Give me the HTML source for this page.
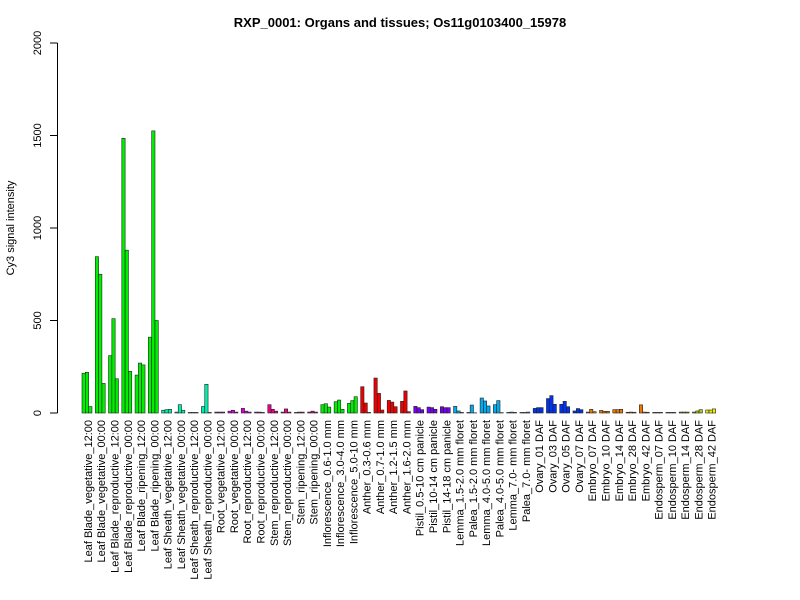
<!DOCTYPE html>
<html><head><meta charset="utf-8"><style>body{margin:0;background:#fff}svg{display:block}</style></head>
<body>
<svg id="s" width="800" height="600" xmlns="http://www.w3.org/2000/svg" font-family="Liberation Sans, Arial, sans-serif">
<text x="400" y="27" text-anchor="middle" font-weight="bold" font-size="13">RXP_0001: Organs and tissues; Os11g0103400_15978</text>
<text transform="translate(14,228) rotate(-90)" text-anchor="middle" font-size="11">Cy3 signal intensity</text>
<line x1="57.5" y1="43" x2="57.5" y2="413" stroke="#000"/>
<g id="ticks"></g>
<g id="bars"></g>
<g id="labels" font-size="11"></g>
</svg>
<script>
var ns="http://www.w3.org/2000/svg";
function el(t,a,p,txt){var e=document.createElementNS(ns,t);for(var k in a)e.setAttribute(k,a[k]);if(txt!=null)e.textContent=txt;document.getElementById(p).appendChild(e);return e;}
var base=413,sc=370/2000;
[0,500,1000,1500,2000].forEach(function(v){var y=base-v*sc;el('line',{x1:50,x2:57.5,y1:y,y2:y,stroke:'#000'},'ticks');el('text',{transform:'translate(41,'+y+') rotate(-90)','text-anchor':'middle','font-size':'11'},'ticks',v);});
var names=["Leaf Blade_vegetative_12:00","Leaf Blade_vegetative_00:00","Leaf Blade_reproductive_12:00","Leaf Blade_reproductive_00:00","Leaf Blade_ripening_12:00","Leaf Blade_ripening_00:00","Leaf Sheath_vegetative_12:00","Leaf Sheath_vegetative_00:00","Leaf Sheath_reproductive_12:00","Leaf Sheath_reproductive_00:00","Root_vegetative_12:00","Root_vegetative_00:00","Root_reproductive_12:00","Root_reproductive_00:00","Stem_reproductive_12:00","Stem_reproductive_00:00","Stem_ripening_12:00","Stem_ripening_00:00","Inflorescence_0.6-1.0 mm","Inflorescence_3.0-4.0 mm","Inflorescence_5.0-10 mm","Anther_0.3-0.6 mm","Anther_0.7-1.0 mm","Anther_1.2-1.5 mm","Anther_1.6-2.0 mm","Pistil_0.5-10 cm panicle","Pistil_10-14 cm panicle","Pistil_14-18 cm panicle","Lemma_1.5-2.0 mm floret","Palea_1.5-2.0 mm floret","Lemma_4.0-5.0 mm floret","Palea_4.0-5.0 mm floret","Lemma_7.0- mm floret","Palea_7.0- mm floret","Ovary_01 DAF","Ovary_03 DAF","Ovary_05 DAF","Ovary_07 DAF","Embryo_07 DAF","Embryo_10 DAF","Embryo_14 DAF","Embryo_28 DAF","Embryo_42 DAF","Endosperm_07 DAF","Endosperm_10 DAF","Endosperm_14 DAF","Endosperm_28 DAF","Endosperm_42 DAF"];
var vals=[[215,220,35],[845,750,160],[310,510,185],[1485,880,225],[205,270,260],[410,1525,500],[15,18,20],[5,45,15],[3,3,3],[35,155,3],[5,5,5],[10,15,5],[25,10,5],[5,5,3],[45,20,10],[5,22,5],[3,5,5],[5,10,5],[45,50,32],[61,70,20],[52,67,88],[142,54,3],[189,106,16],[68,59,34],[63,119,7],[36,29,18],[32,29,20],[34,29,29],[36,11,3],[3,43,1],[81,65,38],[45,67,2],[3,5,3],[3,3,5],[25,29,29],[78,94,47],[47,63,34],[11,24,18],[5,20,7],[14,9,9],[18,18,20],[4,5,4],[44,5,4],[3,3,3],[3,3,3],[5,5,5],[5,11,18],[16,16,22]];
function col(g){if(g<6)return'#00ee00';if(g<10)return'#00eeaa';if(g<14)return'#dd00dd';if(g<18)return'#ee0088';if(g<21)return'#00ee00';if(g<25)return'#ee0000';if(g<28)return'#7700ee';if(g<34)return'#00aaee';if(g<38)return'#0033ee';if(g<43)return'#ee7700';if(g<46)return'#88aa00';if(g<47)return'#aacc00';return'#eeee00';}
var pitch=13.27,bw=pitch/4;
for(var g=0;g<48;g++){var x0=82+g*pitch;
 for(var i=0;i<3;i++){var h=vals[g][i]*sc;el('rect',{x:x0+i*bw,y:base-h,width:bw,height:h,fill:col(g),stroke:'#222','stroke-width':0.6},'bars');}
 var cx=x0+1.5*bw+5;
 el('text',{transform:'translate('+cx+',420) rotate(-90)','text-anchor':'end'},'labels',names[g]);}
</script>
</body></html>
